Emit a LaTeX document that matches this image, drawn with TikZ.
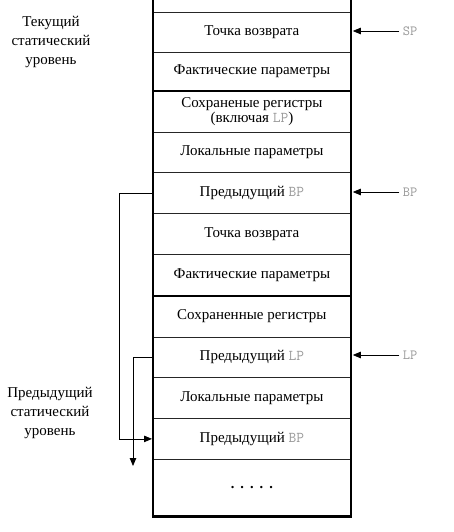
\documentclass[tikz,border=0pt]{standalone}
\usepackage{fontspec}
\setmainfont{Liberation Serif}
\usetikzlibrary{arrows.meta}
\begin{document}
\begin{tikzpicture}[x=1pt,y=-1pt,
  cell/.style={draw=black!85,line width=0.8pt,minimum width=197pt,inner sep=0pt,
    font=\fontsize{15}{15}\selectfont,align=center,anchor=north west},
  reg/.style={text=black!40,font=\ttfamily\fontsize{14}{14}\selectfont},
  side/.style={font=\fontsize{15}{19}\selectfont,align=center},
  ptr/.style={line width=0.8pt,-{Triangle[length=8pt,width=6.5pt]}},
  thick sep/.style={line width=2.2pt}]
\useasboundingbox (0,0) rectangle (453,532);
\def\L{153}
\newcommand\rg[1]{{\ttfamily\color{black!40}#1}}
\coordinate (r0) at (\L,0);
\node[cell,minimum height=40pt] (r1) at (\L,12) {Точка возврата};
\node[cell,minimum height=38pt] (r2) at (\L,52) {Фактические параметры};
\node[cell,minimum height=42pt] (r3) at (\L,90) {Сохраненые регистры\\(включая \rg{LP})};
\node[cell,minimum height=40pt] (r4) at (\L,132) {Локальные параметры};
\node[cell,minimum height=41pt] (r5) at (\L,172) {Предыдущий \rg{BP}};
\node[cell,minimum height=41pt] (r6) at (\L,213) {Точка возврата};
\node[cell,minimum height=41pt] (r7) at (\L,254) {Фактические параметры};
\node[cell,minimum height=42pt] (r8) at (\L,295) {Сохраненные регистры};
\node[cell,minimum height=40pt] (r9) at (\L,337) {Предыдущий \rg{LP}};
\node[cell,minimum height=41pt] (r10) at (\L,377) {Локальные параметры};
\node[cell,minimum height=41pt] (r11) at (\L,418) {Предыдущий \rg{BP}};
\node[cell,minimum height=57pt] (r12) at (\L,459) {\textbf{\Large.\hspace{6pt}.\hspace{6pt}.\hspace{6pt}.\hspace{6pt}.}};
% thick borders
\draw[line width=2.2pt] (r12.south west) -- (r12.south west |- r0);
\draw[line width=2.2pt] (r12.south east) -- (r12.south east |- r0);
\draw[thick sep] (r2.south west) -- (r2.south east);
\draw[thick sep] (r7.south west) -- (r7.south east);
\draw[line width=3.2pt] ([xshift=-1.1pt]r12.south west) -- ([xshift=1.1pt]r12.south east);
% register pointers
\node[reg] (sp) at (410,31) {SP};
\node[reg] (bp) at (410,192) {BP};
\node[reg] (lp) at (410,355) {LP};
\draw[ptr] (sp.west) -- ([xshift=2pt]r1.east|-sp.west);
\draw[ptr] (bp.west) -- ([xshift=2pt]r5.east|-bp.west);
\draw[ptr] (lp.west) -- ([xshift=2pt]r9.east|-lp.west);
% static links
\coordinate (bpx) at (119,0);
\draw[ptr] (r5.west) -- (r5.west -| bpx) |- ([xshift=-1pt]r11.west);
\coordinate (lpx) at (133,0);
\coordinate (lpend) at (133,466);
\draw[ptr] (r9.west) -- (r9.west -| lpx) -- (lpend);
% side labels
\node[side] (cur) at (51,42) {Текущий\\статический\\уровень};
\node[side] (prev) at (50,413) {Предыдущий\\статический\\уровень};
\end{tikzpicture}
\end{document}
